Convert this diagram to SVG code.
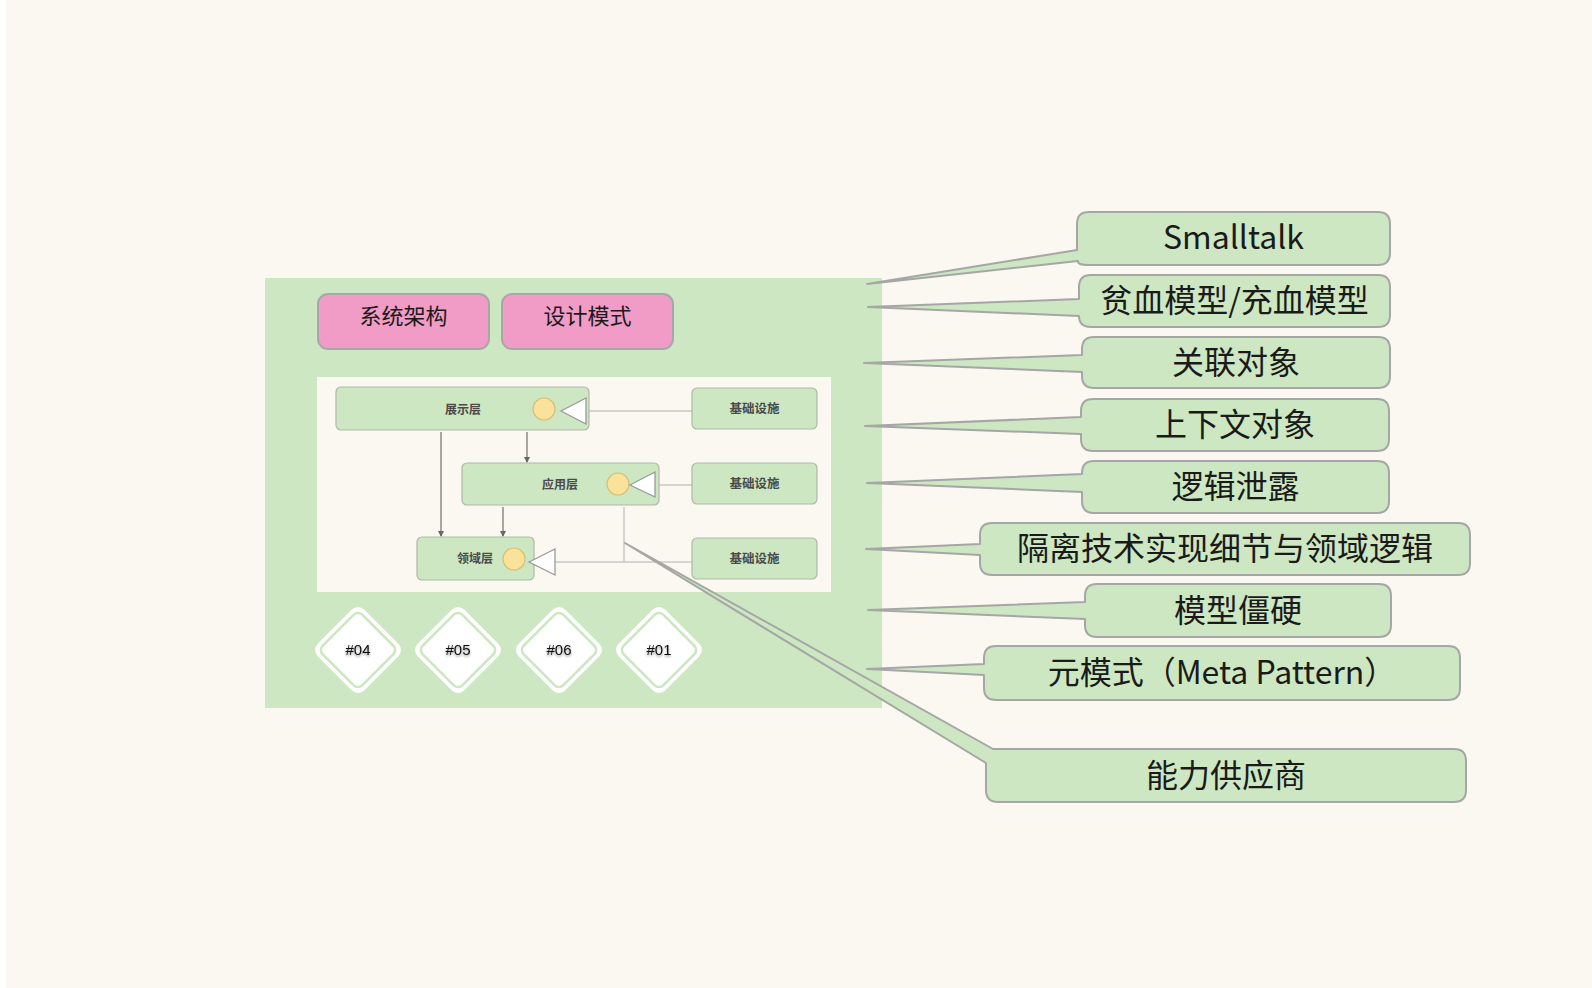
<svg xmlns="http://www.w3.org/2000/svg" xmlns:xlink="http://www.w3.org/1999/xlink" width="1592" height="988" viewBox="0 0 1592 988">
<style>
.callout{fill:#cce7c1;stroke:#a6a6a6;stroke-width:2;stroke-linejoin:round}
.ct{font-family:"Noto Sans CJK SC","Noto Sans",sans-serif;font-size:32px;fill:#1a1a1a;text-anchor:middle}
.pink{fill:#f09cc6;stroke:#a8a8a8;stroke-width:2}
.pt{font-family:"Noto Sans CJK SC",sans-serif;font-size:22px;fill:#1a1a1a;text-anchor:middle}
.gbox{fill:#cce7c1;stroke:#b0b8aa;stroke-width:1.2}
.st{font-family:"Noto Sans CJK SC",serif;font-size:12px;font-weight:bold;fill:#4a4a4a;text-anchor:middle}
.circ{fill:#fbe29a;stroke:#d6c17a;stroke-width:1.2}
.tri{fill:#ffffff;stroke:#9a9a9a;stroke-width:1.3}
.thin{stroke:#c8c8c8;stroke-width:1.5;fill:none}
.arr{stroke:#707070;stroke-width:1.2;fill:none}
.dt{font-family:"Liberation Sans",sans-serif;font-size:15px;fill:#111;text-anchor:middle}
</style>
<defs>
<marker id="ah" markerWidth="6" markerHeight="6" refX="5" refY="3" orient="auto" markerUnits="userSpaceOnUse">
<path d="M0,0 L6,3 L0,6 z" fill="#666"/>
</marker>
<filter id="sh" x="-20%" y="-50%" width="140%" height="200%">
<feDropShadow dx="0" dy="1.5" stdDeviation="1.2" flood-color="#000" flood-opacity="0.45"/>
</filter>
<g id="dia">
<rect x="-33" y="-33" width="66" height="66" rx="9" transform="rotate(45)" fill="#ffffff"/>
<rect x="-28" y="-28" width="56" height="56" rx="6" transform="rotate(45)" fill="#ffffff" stroke="#cce7c1" stroke-width="2.5"/>
</g>
</defs>
<rect x="0" y="0" width="1592" height="988" fill="#ffffff"/>
<rect x="6" y="0" width="1586" height="988" fill="#faf8f0"/>

<g id="panel">
<rect x="265" y="278" width="617" height="430" fill="#cce7c1"/>
<rect x="317" y="377" width="514" height="215" fill="#faf8f0"/>
</g>

<g id="tag-arch">
<rect class="pink" x="318" y="294" width="171" height="55" rx="10"/>
<text class="pt" x="403.5" y="324">系统架构</text>
</g>
<g id="tag-pattern">
<rect class="pink" x="502" y="294" width="171" height="55" rx="10"/>
<text class="pt" x="587.5" y="324">设计模式</text>
</g>

<g id="inner-connectors">
<line class="thin" x1="586" y1="411" x2="692" y2="411"/>
<line class="thin" x1="655" y1="485" x2="692" y2="485"/>
<line class="thin" x1="555" y1="562" x2="692" y2="562"/>
<line class="thin" x1="624" y1="507" x2="624" y2="562"/>
<line class="arr" x1="441" y1="432" x2="441" y2="536" marker-end="url(#ah)"/>
<line class="arr" x1="527" y1="432" x2="527" y2="462" marker-end="url(#ah)"/>
<line class="arr" x1="503" y1="507" x2="503" y2="536" marker-end="url(#ah)"/>
</g>

<g id="layer-ui">
<rect class="gbox" x="336" y="387" width="253" height="43" rx="5"/>
<text class="st" x="463" y="414">展示层</text>
<circle class="circ" cx="544" cy="409" r="11"/>
<polygon class="tri" points="561,411 586,398 586,424"/>
</g>
<g id="layer-app">
<rect class="gbox" x="462" y="463" width="197" height="42" rx="5"/>
<text class="st" x="560" y="489">应用层</text>
<circle class="circ" cx="618" cy="484" r="11"/>
<polygon class="tri" points="630,485 655,472 655,497"/>
</g>
<g id="layer-domain">
<rect class="gbox" x="417" y="537" width="117" height="43" rx="5"/>
<text class="st" x="475" y="563">领域层</text>
<circle class="circ" cx="514" cy="559" r="11"/>
<polygon class="tri" points="529,562 555,549 555,575"/>
</g>
<g id="infra1">
<rect class="gbox" x="692" y="388" width="125" height="41" rx="5"/>
<text class="st" x="754.5" y="413" style="font-size:12.5px">基础设施</text>
</g>
<g id="infra2">
<rect class="gbox" x="692" y="463" width="125" height="41" rx="5"/>
<text class="st" x="754.5" y="488" style="font-size:12.5px">基础设施</text>
</g>
<g id="infra3">
<rect class="gbox" x="692" y="538" width="125" height="41" rx="5"/>
<text class="st" x="754.5" y="563" style="font-size:12.5px">基础设施</text>
</g>

<g id="d04"><use xlink:href="#dia" x="358" y="650"/><text class="dt" x="358" y="655" filter="url(#sh)">#04</text></g>
<g id="d05"><use xlink:href="#dia" x="458" y="650"/><text class="dt" x="458" y="655" filter="url(#sh)">#05</text></g>
<g id="d06"><use xlink:href="#dia" x="559" y="650"/><text class="dt" x="559" y="655" filter="url(#sh)">#06</text></g>
<g id="d01"><use xlink:href="#dia" x="659" y="650"/><text class="dt" x="659" y="655" filter="url(#sh)">#01</text></g>

<g id="c1">
<path class="callout" d="M1089,212 H1378 Q1390,212 1390,224 V253 Q1390,265 1378,265 H1089 Q1077,265 1078,261 L867,284 L1077,250 V224 Q1077,212 1089,212 Z"/>
<text class="ct" x="1233.5" y="249">Smalltalk</text>
</g>
<g id="c2">
<path class="callout" d="M1091,275 H1378 Q1390,275 1390,287 V315 Q1390,327 1378,327 H1091 Q1079,327 1079,316 L868,307 L1079,299 V287 Q1079,275 1091,275 Z"/>
<text class="ct" x="1234.5" y="312">贫血模型/充血模型</text>
</g>
<g id="c3">
<path class="callout" d="M1094,337 H1378 Q1390,337 1390,349 V376 Q1390,388 1378,388 H1094 Q1082,388 1082,376 V372 L864,363 L1082,355 V349 Q1082,337 1094,337 Z"/>
<text class="ct" x="1236" y="373.5">关联对象</text>
</g>
<g id="c4">
<path class="callout" d="M1093,399 H1377 Q1389,399 1389,411 V439 Q1389,451 1377,451 H1093 Q1081,451 1081,439 V434 L865,426 L1081,417 V411 Q1081,399 1093,399 Z"/>
<text class="ct" x="1235" y="436">上下文对象</text>
</g>
<g id="c5">
<path class="callout" d="M1094,461 H1377 Q1389,461 1389,473 V501 Q1389,513 1377,513 H1094 Q1082,513 1082,501 V492 L867,483 L1082,474 V473 Q1082,461 1094,461 Z"/>
<text class="ct" x="1235.5" y="498">逻辑泄露</text>
</g>
<g id="c6">
<path class="callout" d="M992,523 H1458 Q1470,523 1470,535 V563 Q1470,575 1458,575 H992 Q980,575 980,563 V555 L866,549 L980,544 V535 Q980,523 992,523 Z"/>
<text class="ct" x="1225" y="560">隔离技术实现细节与领域逻辑</text>
</g>
<g id="c7">
<path class="callout" d="M1097,584 H1379 Q1391,584 1391,596 V625 Q1391,637 1379,637 H1097 Q1085,637 1085,625 V619 L868,610 L1085,602 V596 Q1085,584 1097,584 Z"/>
<text class="ct" x="1238" y="621.5">模型僵硬</text>
</g>
<g id="c8">
<path class="callout" d="M996,646 H1448 Q1460,646 1460,658 V688 Q1460,700 1448,700 H996 Q984,700 984,688 V675 L867,669 L984,664 V658 Q984,646 996,646 Z"/>
<text class="ct" x="1222" y="684">元模式（Meta Pattern）</text>
</g>
<g id="c9">
<path class="callout" d="M998,749 H1454 Q1466,749 1466,761 V790 Q1466,802 1454,802 H998 Q986,802 986,790 V763 L625,543 L993,749 Z"/>
<text class="ct" x="1226" y="786.5">能力供应商</text>
</g>
</svg>
